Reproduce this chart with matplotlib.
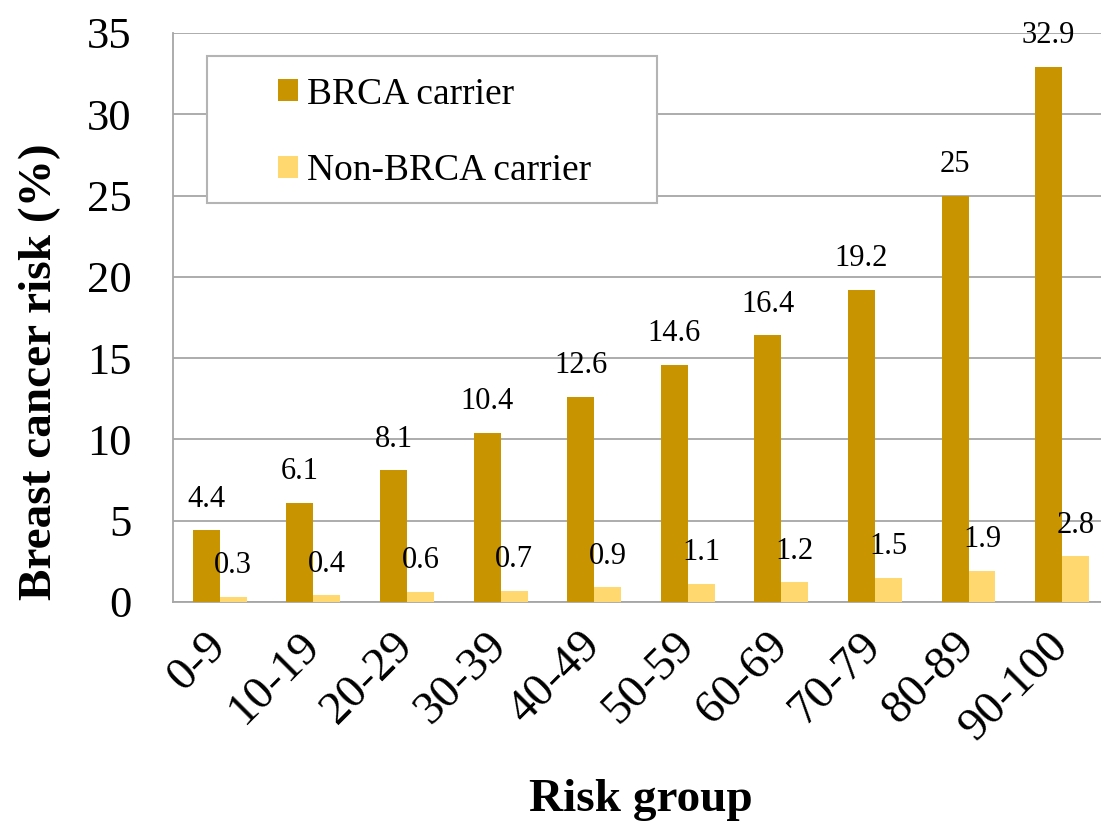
import numpy as np
import matplotlib
matplotlib.use("Agg")
from matplotlib import pyplot as plt
from matplotlib.patches import Rectangle

# Risk groups and breast cancer risk (%) per group
groups = ["0-9", "10-19", "20-29", "30-39", "40-49", "50-59", "60-69", "70-79", "80-89", "90-100"]
brca = [4.4, 6.1, 8.1, 10.4, 12.6, 14.6, 16.4, 19.2, 25, 32.9]
non_brca = [0.3, 0.4, 0.6, 0.7, 0.9, 1.1, 1.2, 1.5, 1.9, 2.8]

plt.rcParams["font.family"] = ["Liberation Serif", "DejaVu Serif"]

c_brca = "#c89400"
c_non = "#ffd970"
grid_c = "#a6a6a6"

fig = plt.figure(figsize=(11.01, 8.26), dpi=100)
ax = fig.add_axes([0.1571, 0.2712, 0.8501, 0.6889])

x = np.arange(len(groups))
w = 0.288
b1 = ax.bar(x - w / 2, brca, w, color=c_brca, zorder=3, label="BRCA carrier")
b2 = ax.bar(x + w / 2, non_brca, w, color=c_non, zorder=3, label="Non-BRCA carrier")

# value labels above each bar
for bars, vals in ((b1, brca), (b2, non_brca)):
    for r, v in zip(bars, vals):
        ax.annotate(f"{v:g}", (r.get_x() + r.get_width() / 2, v), xytext=(0, 22.5),
                    textcoords="offset points", ha="center", va="center", fontsize=22)

ax.set_xlim(-0.5, 9.5)
ax.set_ylim(0, 35)
ax.set_yticks(range(0, 36, 5))
ax.set_xticks(x)
ax.set_xticklabels(groups, rotation=45, ha="right", va="center", rotation_mode="anchor")
ax.tick_params(axis="y", length=0, pad=30, labelsize=32)
ax.tick_params(axis="x", length=0, pad=27, labelsize=34)
ax.yaxis.grid(True, color=grid_c, linewidth=1.3, zorder=0)
ax.set_axisbelow(True)
for s in ("top", "right"):
    ax.spines[s].set_visible(False)
for s in ("left", "bottom"):
    ax.spines[s].set_color(grid_c)
    ax.spines[s].set_linewidth(1.3)

fig.text(40 / 1101, 1 - 372 / 826, "Breast cancer risk (%)", rotation=90, ha="center", va="center",
         fontsize=34, fontweight="bold")
fig.text(641 / 1101, 1 - 800 / 826, "Risk group", ha="center", va="center",
         fontsize=34, fontweight="bold")

# legend box
fig.add_artist(Rectangle((207 / 1101, 1 - 203 / 826), 450 / 1101, 147 / 826, transform=fig.transFigure,
                         facecolor="white", edgecolor="#b4b4b4", linewidth=1.5, zorder=4))
fig.legend(handles=[b1, b2], loc="upper left", bbox_to_anchor=(278 / 1101, 1 - 77 / 826),
           frameon=False, fontsize=27, borderpad=0, borderaxespad=0, handlelength=0.52,
           handleheight=0.52, handletextpad=0.25, labelspacing=1.12)

fig.savefig("out.png", dpi=100)
